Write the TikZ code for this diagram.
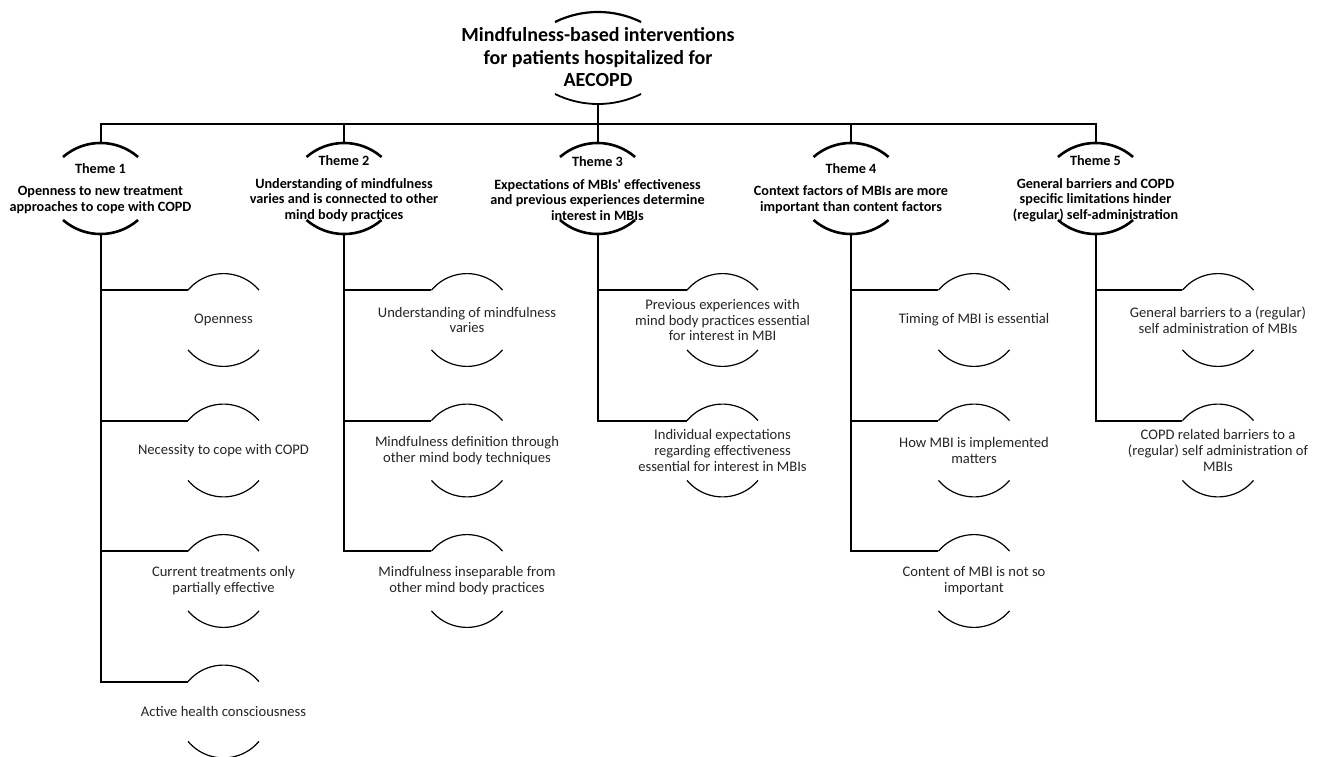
\documentclass[tikz,border=0pt]{standalone}
\usepackage{fontspec}
\setmainfont{Carlito}
\newfontfamily\noligfont{Carlito}[Ligatures=TeXOff]
\tikzset{
  ttl/.style={font=\bfseries\fontsize{20}{22.5}\selectfont, align=center, inner sep=0pt},
  thm/.style={font=\bfseries\fontsize{14.2}{15.5}\selectfont, align=center, inner sep=0pt},
  subn/.style={font=\fontsize{14.6}{15.8}\selectfont, align=center, inner sep=0pt, text=black!85},
  bar/.style={line width=2pt},
  tarc/.style={line width=2.6pt},
  sarc/.style={line width=1.2pt},
}
\newcommand\subarcs[1]{%
  \draw[sarc] ([shift={(140:46.4pt)}]#1.center) arc[start angle=140,end angle=40,radius=46.4pt];
  \draw[sarc] ([shift={(220:46.4pt)}]#1.center) arc[start angle=220,end angle=320,radius=46.4pt];
  \coordinate (#1-in) at ([shift={(140:46.4pt)}]#1.center);}
\newcommand\themearcs[1]{%
  \draw[tarc] ([shift={(-37.5,-31.5)}]#1.center) arc[start angle=131,end angle=49,radius=57.2pt];
  \draw[tarc] ([shift={(-37.5,31.5)}]#1.center) arc[start angle=229,end angle=311,radius=57.2pt];
  \coordinate (#1-t) at ([shift={(0,-45.5)}]#1.center);
  \coordinate (#1-b) at ([shift={(0,45.5)}]#1.center);}
\begin{document}
\begin{tikzpicture}[x=1pt,y=-1pt]
\useasboundingbox[fill=white] (0,0) rectangle (1318,757);
% title
\node[ttl] (top) at (598,57.5) {Mindfulness-based interventions\\for patients hospitalized for\\AECOPD};
\draw[tarc, line width=2.2pt] ([shift={(-43,-35.5)}]top.center) arc[start angle=116.2,end angle=63.8,radius=97.5pt];
\draw[tarc, line width=1.8pt] ([shift={(-43,36.5)}]top.center) arc[start angle=243.8,end angle=296.2,radius=97.5pt];
\coordinate (top-b) at ([shift={(0,46.5)}]top.center);
\coordinate (bus) at (598,124);
% themes
\node[thm] (t1) at (100.5,188.5) {Theme 1\\[7pt]Openness to new treatment\\approaches to cope with COPD};
\node[thm] (t2) at (344,188.5) {Theme 2\\[7pt]Understanding of mindfulness\\varies and is connected to other\\mind body practices};
\node[thm] (t3) at (597.5,188.5) {Theme 3\\[7pt]Expectations of MBIs{\noligfont\bfseries '} effectiveness\\and previous experiences determine\\interest in MBIs};
\node[thm] (t4) at (851,188.5) {Theme 4\\[7pt]Context factors of MBIs are more\\important than content factors};
\node[thm] (t5) at (1095.5,188.5) {Theme 5\\[7pt]General barriers and COPD\\specific limitations hinder\\(regular) self-administration};
\themearcs{t1}\themearcs{t2}\themearcs{t3}\themearcs{t4}\themearcs{t5}
\foreach \t in {t1,t2,t3,t4,t5}{\draw[bar] (top-b) -- (top-b |- bus) -| (\t-t);}
% theme 1 subs
\node[subn] (s11) at (223.5,320) {Openness};
\node[subn] (s12) at (223.5,450.5) {Necessity to cope with COPD};
\node[subn] (s13) at (223.5,581) {Current treatments only\\partially effective};
\node[subn] (s14) at (223.5,711.5) {Active health consciousness};
% theme 2 subs
\node[subn] (s21) at (467,320) {Understanding of mindfulness\\varies};
\node[subn] (s22) at (467,450.5) {Mindfulness definition through\\other mind body techniques};
\node[subn] (s23) at (467,581) {Mindfulness inseparable from\\other mind body practices};
% theme 3 subs
\node[subn] (s31) at (722.5,320) {Previous experiences with\\mind body practices essential\\for interest in MBI};
\node[subn] (s32) at (722.5,450.5) {Individual expectations\\regarding effectiveness\\essential for interest in MBIs};
% theme 4 subs
\node[subn] (s41) at (974,320) {Timing of MBI is essential};
\node[subn] (s42) at (974,450.5) {How MBI is implemented\\matters};
\node[subn] (s43) at (974,581) {Content of MBI is not so\\important};
% theme 5 subs
\node[subn] (s51) at (1218,320) {General barriers to a (regular)\\self administration of MBIs};
\node[subn] (s52) at (1218,450.5) {COPD related barriers to a\\(regular) self administration of\\MBIs};
\foreach \s in {s11,s12,s13,s14,s21,s22,s23,s31,s32,s41,s42,s43,s51,s52}{\subarcs{\s}}
% branches
\foreach \s in {s11,s12,s13,s14}{\draw[bar] (t1-b) |- (\s-in);}
\foreach \s in {s21,s22,s23}{\draw[bar] (t2-b) |- (\s-in);}
\foreach \s in {s31,s32}{\draw[bar] (t3-b) |- (\s-in);}
\foreach \s in {s41,s42,s43}{\draw[bar] (t4-b) |- (\s-in);}
\foreach \s in {s51,s52}{\draw[bar] (t5-b) |- (\s-in);}
\end{tikzpicture}
\end{document}
